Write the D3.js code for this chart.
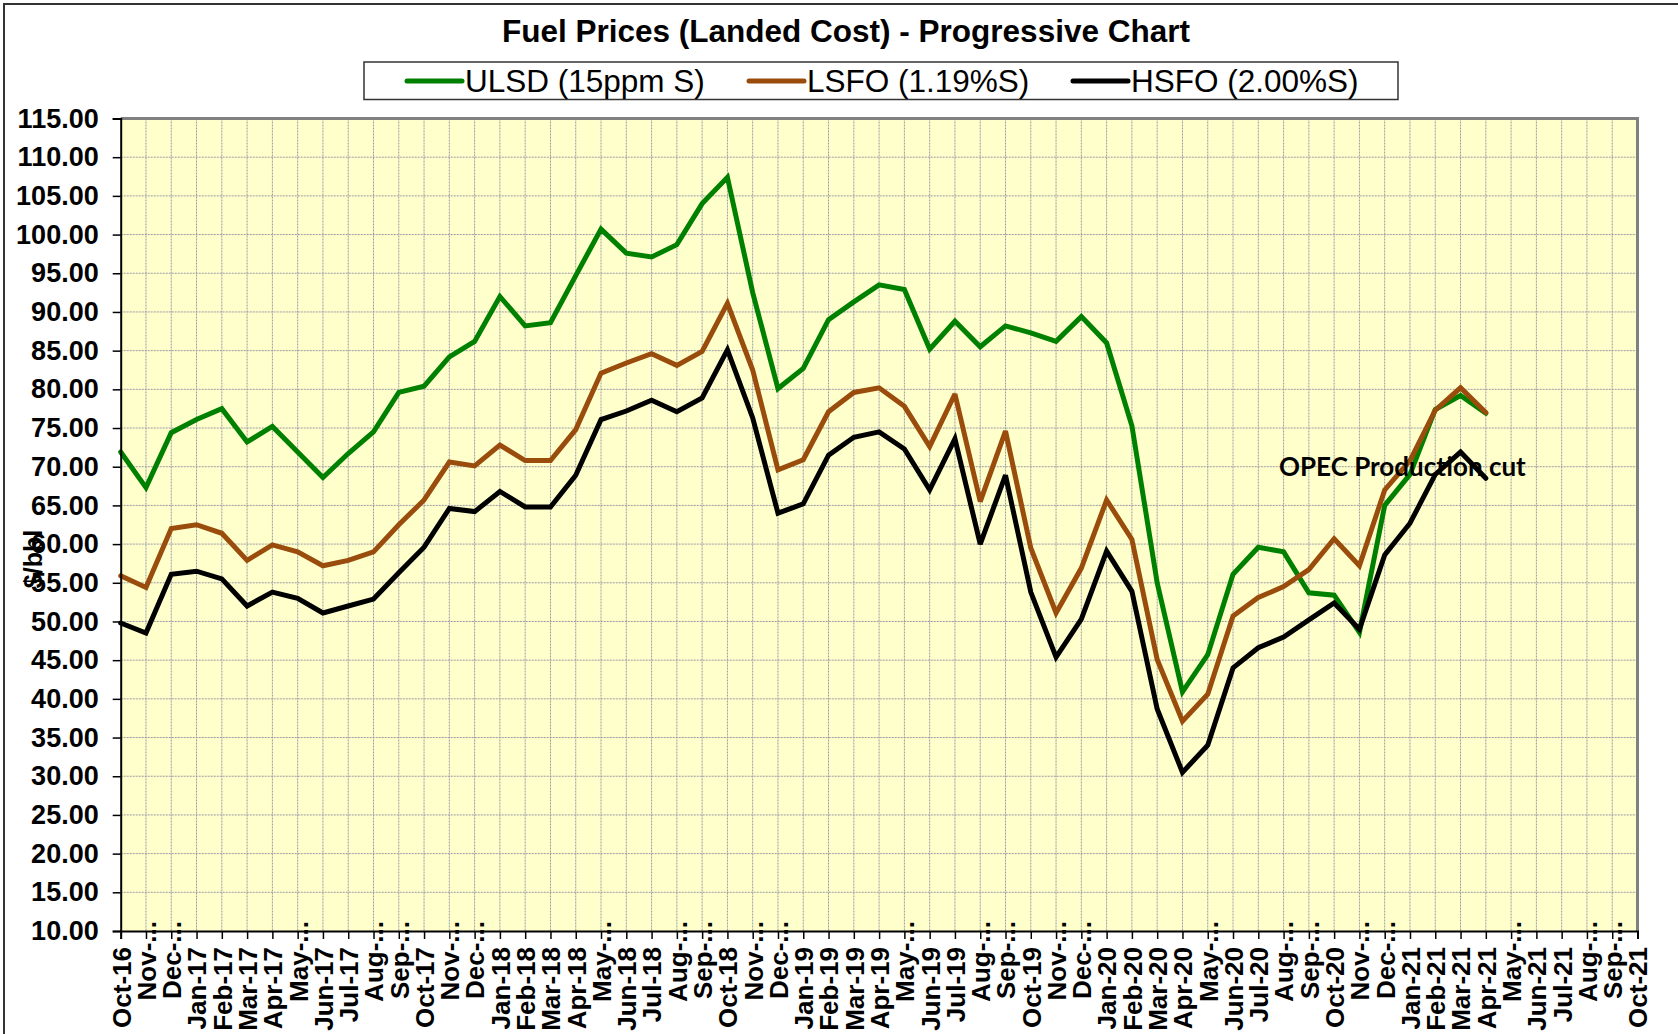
<!DOCTYPE html>
<html>
<head>
<meta charset="utf-8">
<script src="https://cdn.jsdelivr.net/npm/d3@7/dist/d3.min.js"></script>
<style>
  body { margin: 0; background: #fff; }
  svg { display: block; font-family: "Liberation Sans", Arial, sans-serif; }
</style>
</head>
<body>
<div id="chart"></div>
<script>
// months on the category axis (Oct-16 .. Oct-21)
const months = ["Oct-16","Nov-16","Dec-16","Jan-17","Feb-17","Mar-17","Apr-17","May-17","Jun-17","Jul-17","Aug-17","Sep-17",
  "Oct-17","Nov-17","Dec-17","Jan-18","Feb-18","Mar-18","Apr-18","May-18","Jun-18","Jul-18","Aug-18","Sep-18",
  "Oct-18","Nov-18","Dec-18","Jan-19","Feb-19","Mar-19","Apr-19","May-19","Jun-19","Jul-19","Aug-19","Sep-19",
  "Oct-19","Nov-19","Dec-19","Jan-20","Feb-20","Mar-20","Apr-20","May-20","Jun-20","Jul-20","Aug-20","Sep-20",
  "Oct-20","Nov-20","Dec-20","Jan-21","Feb-21","Mar-21","Apr-21","May-21","Jun-21","Jul-21","Aug-21","Sep-21","Oct-21"];

// labels as excel shows them (long ones cut with ...)
const tickLabels = months.map(m => /^(Nov|Dec|May|Aug|Sep)/.test(m) ? m.slice(0, 4) + "..." : m);

const yTicks = d3.range(10, 115.1, 5);

// $/bbl, Oct-16 .. Apr-21
const ulsd = [71.9,67.3,74.4,76.1,77.5,73.2,75.2,71.9,68.6,71.7,74.5,79.6,
  80.4,84.2,86.2,92.0,88.2,88.6,94.7,100.7,97.6,97.1,98.7,104.0,
  107.4,92.5,80.1,82.7,89.0,91.3,93.5,92.9,85.2,88.8,85.5,88.2,
  87.3,86.2,89.4,86.0,75.3,55.0,40.9,45.7,56.1,59.6,59.0,53.7,
  53.4,48.6,65.0,69.0,77.4,79.2,76.9];
const lsfo = [55.9,54.4,62.0,62.5,61.4,57.9,59.9,59.0,57.2,57.9,59.0,62.5,
  65.7,70.6,70.1,72.8,70.8,70.8,74.8,82.1,83.4,84.6,83.1,84.9,
  91.1,82.5,69.6,70.9,77.1,79.6,80.2,77.8,72.6,79.4,65.5,74.6,
  59.5,51.1,56.9,65.7,60.6,45.1,37.1,40.6,50.7,53.1,54.5,56.7,
  60.7,57.2,67.0,70.8,77.3,80.2,77.0];
const hsfo = [49.8,48.5,56.1,56.5,55.5,52.0,53.8,53.0,51.1,52.0,52.9,56.3,
  59.6,64.6,64.2,66.8,64.8,64.8,68.9,76.1,77.2,78.6,77.1,78.9,
  85.1,76.3,64.0,65.2,71.5,73.8,74.5,72.3,67.0,73.6,60.0,68.9,
  53.8,45.4,50.3,59.1,53.9,38.7,30.5,34.0,44.0,46.6,48.0,50.2,
  52.4,49.0,58.6,62.7,69.0,71.9,68.5];

const seriesNames = ["ULSD (15ppm S)", "LSFO (1.19%S)", "HSFO (2.00%S)"];
const seriesColors = ["#008000", "#994C0C", "#000000"];
const seriesData = [ulsd, lsfo, hsfo];

const W = 1678, H = 1034;
const plot = { left: 120.7, top: 118.5, right: 1637.5, bottom: 931 };

const svg = d3.select("#chart").append("svg")
  .attr("width", W).attr("height", H);

// outer chart frame (runs off the right / bottom of the picture)
svg.append("rect")
  .attr("x", 4).attr("y", 4).attr("width", W + 20).attr("height", H + 20)
  .attr("fill", "#fff").attr("stroke", "#333").attr("stroke-width", 2);

const x = d3.scalePoint().domain(months).range([plot.left, plot.right]);
const y = d3.scaleLinear().domain([10, 115]).range([plot.bottom, plot.top]);

// plot area
svg.append("rect")
  .attr("x", plot.left).attr("y", plot.top)
  .attr("width", plot.right - plot.left).attr("height", plot.bottom - plot.top)
  .attr("fill", "#FFFFCC");

// grid
const grid = svg.append("g").attr("stroke", "#9a9aa6").attr("stroke-width", 1).attr("stroke-dasharray", "2,1");
grid.selectAll("line.h").data(yTicks.slice(1, -1)).enter().append("line")
  .attr("x1", plot.left).attr("x2", plot.right)
  .attr("y1", d => y(d)).attr("y2", d => y(d));
grid.selectAll("line.v").data(months.slice(1, -1)).enter().append("line")
  .attr("y1", plot.top).attr("y2", plot.bottom)
  .attr("x1", d => x(d)).attr("x2", d => x(d));

// grey frame top/right
svg.append("path")
  .attr("d", `M${plot.left},${plot.top}H${plot.right}V${plot.bottom}`)
  .attr("fill", "none").attr("stroke", "#808080").attr("stroke-width", 3);

// lines
const line = d3.line()
  .x((d, i) => x(months[i]))
  .y(d => y(d));

svg.append("g").selectAll("path").data(seriesData).enter().append("path")
  .attr("d", line)
  .attr("fill", "none")
  .attr("stroke", (d, i) => seriesColors[i])
  .attr("stroke-width", 5)
  .attr("stroke-linejoin", "miter")
  .attr("stroke-miterlimit", 3)
  .attr("stroke-linecap", "round");

// y axis
const yAxis = svg.append("g")
  .attr("transform", `translate(${plot.left},0)`)
  .call(d3.axisLeft(y).tickValues(yTicks).tickFormat(d3.format(".2f")).tickSize(8).tickPadding(14));
yAxis.select(".domain").attr("stroke", "#000").attr("stroke-width", 2);
yAxis.selectAll(".tick line").attr("stroke", "#000").attr("stroke-width", 1.5);
yAxis.selectAll(".tick text")
  .attr("font-family", "Liberation Sans, Arial, sans-serif")
  .attr("font-size", 27).attr("font-weight", "bold").attr("fill", "#000");

// x axis
const xAxis = svg.append("g")
  .attr("transform", `translate(0,${plot.bottom})`)
  .call(d3.axisBottom(x).tickSize(8).tickFormat((d, i) => tickLabels[i]));
xAxis.select(".domain").attr("stroke", "#000").attr("stroke-width", 2);
xAxis.selectAll(".tick line").attr("stroke", "#000").attr("stroke-width", 1.5);
xAxis.selectAll(".tick text")
  .attr("font-family", "Liberation Sans, Arial, sans-serif")
  .attr("font-size", 26).attr("font-weight", "bold").attr("fill", "#000")
  .attr("transform", "rotate(-90)")
  .attr("text-anchor", "end")
  .attr("dy", "0.36em")
  .attr("y", 0)
  .attr("x", (d, i) => tickLabels[i].endsWith("...") ? 10 : -16);

// y axis title
svg.append("text")
  .attr("transform", "translate(33,559) rotate(-90)")
  .attr("text-anchor", "middle")
  .attr("dominant-baseline", "central")
  .attr("font-size", 25).attr("font-weight", "bold")
  .text("$/bbl");

// title
svg.append("text")
  .attr("x", 846).attr("y", 42)
  .attr("text-anchor", "middle")
  .attr("font-size", 31.5).attr("font-weight", "bold")
  .text("Fuel Prices (Landed Cost) - Progressive Chart");

// legend
const legend = svg.append("g");
legend.append("rect")
  .attr("x", 364).attr("y", 62).attr("width", 1034).attr("height", 37.5)
  .attr("fill", "#fff").attr("stroke", "#333").attr("stroke-width", 1.5);
const legendX = [407, 749, 1073];
const items = legend.selectAll("g.item").data(seriesNames).enter().append("g")
  .attr("transform", (d, i) => `translate(${legendX[i]},81)`);
items.append("line")
  .attr("x1", 0).attr("x2", 55)
  .attr("stroke", (d, i) => seriesColors[i])
  .attr("stroke-width", 5).attr("stroke-linecap", "round");
items.append("text")
  .attr("x", 58).attr("dy", "0.36em")
  .attr("font-size", 31.5)
  .text(d => d);

// annotation
svg.append("text")
  .attr("x", 1279).attr("y", 476)
  .attr("font-family", "Lato, 'Open Sans', sans-serif")
  .attr("font-size", 26).attr("font-weight", "bold")
  .text("OPEC Production cut");
</script>
</body>
</html>
